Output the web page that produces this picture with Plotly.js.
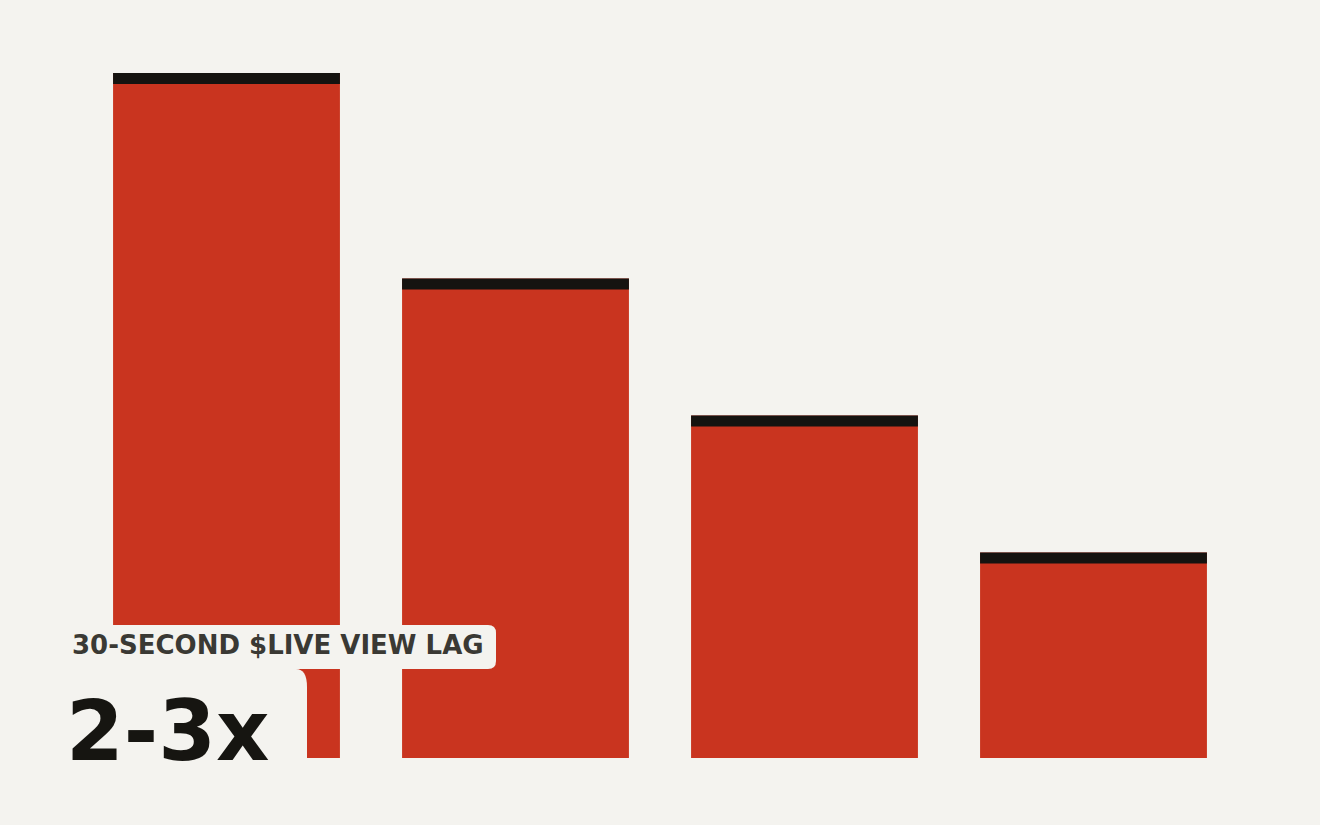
<!DOCTYPE html>
<html>
<head>
<meta charset="utf-8">
<script src="https://cdn.plot.ly/plotly-3.0.1.min.js"></script>
<style>
  html, body { margin: 0; padding: 0; background: #F4F3EF; }
  #chart { width: 1320px; height: 825px; }
</style>
</head>
<body>
<div id="chart"></div>
<script>
var categories = ["A", "B", "C", "D"];
var values = [100, 70, 50, 30];
var labelText = "30-SECOND $LIVE VIEW LAG";
var bigText = "2-3x";

var W = 1320, H = 825;
var M = { l: 82, r: 82, t: 73, b: 67 };
var plotW = W - M.l - M.r, plotH = H - M.t - M.b;
var yMax = 100;
var capPx = 11;
var capUnits = capPx / plotH * yMax;

function px(x) { return (x - M.l) / plotW; }
function py(y) { return (H - M.b - y) / plotH; }

// rounded rectangle in paper coords from pixel corners
function roundRect(x0, y0, x1, y1, rX, rY) {
  var rx = rX / plotW, ry = (rY || rX) / plotH;
  var L = px(x0), R = px(x1), T = py(y0), B = py(y1);
  return "M" + (L + rx) + "," + T +
    " L" + (R - rx) + "," + T +
    " Q" + R + "," + T + " " + R + "," + (T - ry) +
    " L" + R + "," + (B + ry) +
    " Q" + R + "," + B + " " + (R - rx) + "," + B +
    " L" + (L + rx) + "," + B +
    " Q" + L + "," + B + " " + L + "," + (B + ry) +
    " L" + L + "," + (T - ry) +
    " Q" + L + "," + T + " " + (L + rx) + "," + T + " Z";
}

var bars = {
  type: "bar",
  x: categories,
  y: values,
  marker: { color: "#C9341F", line: { width: 0 } },
  hoverinfo: "skip"
};

var caps = {
  type: "bar",
  x: categories,
  y: values.map(function () { return capUnits; }),
  base: values.map(function (v) { return v - capUnits; }),
  marker: { color: "#151310", line: { width: 0 } },
  hoverinfo: "skip"
};

var layout = {
  width: W,
  height: H,
  margin: M,
  paper_bgcolor: "#F4F3EF",
  plot_bgcolor: "#F4F3EF",
  barmode: "overlay",
  bargap: 0.215,
  showlegend: false,
  xaxis: { visible: false, range: [-0.5, 3.5] },
  yaxis: { visible: false, range: [0, yMax] },
  shapes: [
    {
      type: "path", xref: "paper", yref: "paper", layer: "above",
      path: roundRect(20, 669, 307, 840, 11, 18),
      fillcolor: "#F4F3EF", line: { width: 0 }
    },
    {
      type: "path", xref: "paper", yref: "paper", layer: "above",
      path: roundRect(64, 625, 496, 669, 8),
      fillcolor: "#F4F3EF", line: { width: 0 }
    }
  ],
  annotations: [
    {
      xref: "paper", yref: "paper",
      x: px(70), y: py(645),
      xanchor: "left", yanchor: "middle",
      text: labelText, showarrow: false,
      font: { family: "DejaVu Sans", size: 26, color: "#3A3934", weight: "bold" }
    },
    {
      xref: "paper", yref: "paper",
      x: px(64), y: py(731),
      xanchor: "left", yanchor: "middle",
      text: bigText, showarrow: false,
      font: { family: "DejaVu Sans", size: 83, color: "#161511", weight: "bold" }
    }
  ]
};

Plotly.newPlot("chart", [bars, caps], layout, { displayModeBar: false, staticPlot: true });
</script>
</body>
</html>
